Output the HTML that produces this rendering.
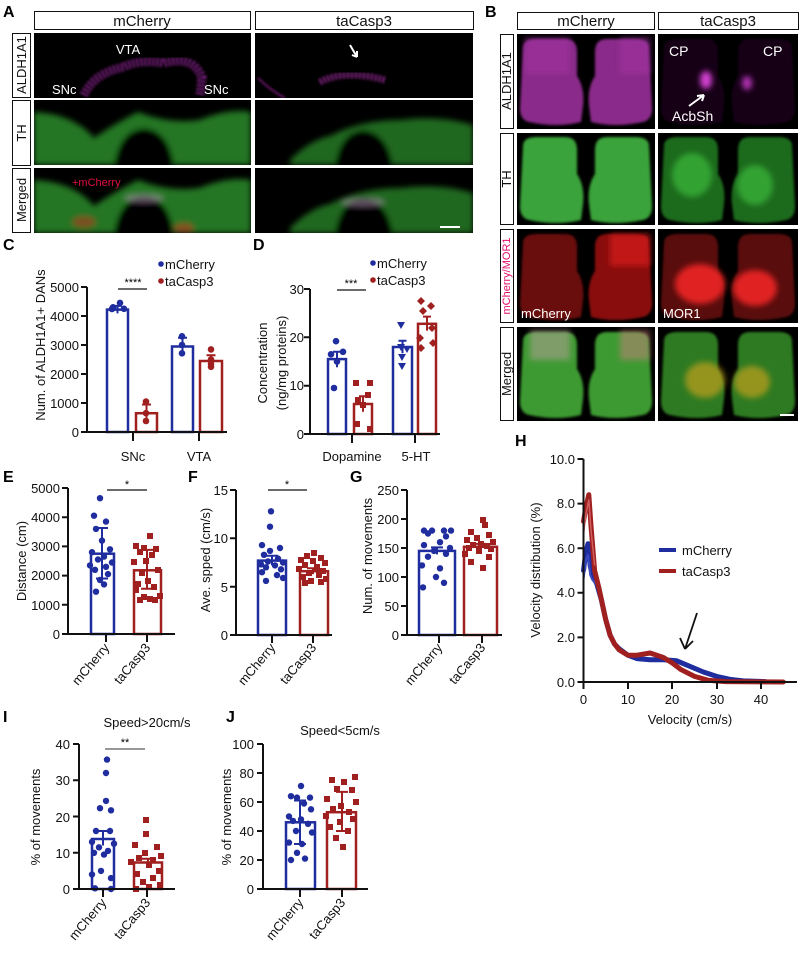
<!DOCTYPE html>
<html><head><meta charset="utf-8"><style>
html,body{margin:0;padding:0;background:#fff}
svg{display:block;font-family:"Liberation Sans",sans-serif}
</style></head><body>
<svg width="800" height="953" viewBox="0 0 800 953" xmlns="http://www.w3.org/2000/svg">
<defs>
<filter id="bl" x="-20%" y="-20%" width="140%" height="140%"><feGaussianBlur stdDeviation="3"/></filter>
<filter id="bl2"><feGaussianBlur stdDeviation="1.2"/></filter>
<path id="lobe" d="M6,12 Q6,3 20,3 L48,3 Q60,3 60,16 L60,40 Q68,52 66,70 L64,86 Q40,92 12,86 Q3,84 3,72 Z"/>
</defs>
<style>
.t{font-size:13px;fill:#111}
.ax{stroke:#111;stroke-width:2;fill:none}
.b{fill:#1f2d9e}.r{fill:#a01f1f}
.bs{stroke:#1f2d9e;stroke-width:2.5;fill:#fff}
.rs{stroke:#a01f1f;stroke-width:2.5;fill:#fff}
.be{stroke:#1f2d9e;stroke-width:2;fill:none}
.re{stroke:#a01f1f;stroke-width:2;fill:none}
.L{font-size:16px;font-weight:bold;fill:#000}
.hd{font-size:15px;fill:#111}
</style>

<!-- ===== Panel A ===== -->
<text x="3" y="17" class="L">A</text>
<rect x="34.5" y="11.5" width="216" height="18" fill="#fff" stroke="#111"/>
<text x="142" y="26" class="hd" text-anchor="middle">mCherry</text>
<rect x="255.5" y="11.5" width="218" height="18" fill="#fff" stroke="#111"/>
<text x="364" y="26" class="hd" text-anchor="middle">taCasp3</text>
<rect x="12.5" y="33.5" width="18" height="64" fill="#fff" stroke="#111"/>
<text transform="translate(26,65) rotate(-90)" class="t" text-anchor="middle">ALDH1A1</text>
<rect x="12.5" y="100.5" width="18" height="65" fill="#fff" stroke="#111"/>
<text transform="translate(26,133) rotate(-90)" class="t" text-anchor="middle">TH</text>
<rect x="12.5" y="168.5" width="18" height="64" fill="#fff" stroke="#111"/>
<text transform="translate(26,200) rotate(-90)" class="t" text-anchor="middle">Merged</text>

<!-- row1 -->
<svg x="34" y="33" width="217" height="65" overflow="hidden">
<rect width="217" height="65" fill="#000"/>
<g filter="url(#bl2)">
<path d="M50,62 Q60,40 90,34 Q105,26 130,30 Q160,22 168,45 L166,62" stroke="#a028a8" stroke-width="9" fill="none" stroke-dasharray="2 2" opacity="0.8"/>
</g>
<text x="94" y="21" fill="#fff" font-size="13" text-anchor="middle">VTA</text>
<text x="18" y="61" fill="#fff" font-size="13">SNc</text>
<text x="170" y="61" fill="#fff" font-size="13">SNc</text>
</svg>
<svg x="255" y="33" width="218" height="65" overflow="hidden">
<rect width="218" height="65" fill="#000"/>
<g filter="url(#bl2)">
<path d="M65,49 Q90,36 130,47" stroke="#b030b0" stroke-width="7" fill="none" stroke-dasharray="2 2" opacity="0.8"/>
<path d="M3,45 Q15,57 30,65" stroke="#902090" stroke-width="1.5" fill="none"/>
</g>
<path d="M95,12 L102,24 M102,24 L97,22 M102,24 L102,18" stroke="#fff" stroke-width="2" fill="none"/>
</svg>

<!-- row2 -->
<svg x="34" y="100" width="217" height="65" overflow="hidden">
<rect width="217" height="65" fill="#000"/>
<g filter="url(#bl)">
<path d="M0,12 Q40,14 60,38 Q80,24 104,12 Q135,24 165,20 Q195,8 217,12 L217,65 L0,65 Z" fill="#2a8a2a" opacity="0.85"/>
<path d="M80,65 Q85,30 110,28 Q135,30 140,65 Z" fill="#000"/>
</g>
</svg>
<svg x="255" y="100" width="218" height="65" overflow="hidden">
<rect width="218" height="65" fill="#000"/>
<g filter="url(#bl)">
<path d="M35,60 Q55,40 75,36 Q105,20 145,20 Q185,15 218,25 L218,65 L35,65 Z" fill="#267a26" opacity="0.85"/>
<path d="M80,65 Q85,32 108,30 Q132,32 138,65 Z" fill="#000"/>
</g>
</svg>

<!-- row3 -->
<svg x="34" y="168" width="217" height="65" overflow="hidden">
<rect width="217" height="65" fill="#000"/>
<g filter="url(#bl)">
<path d="M0,12 Q40,14 60,38 Q80,24 104,12 Q135,24 165,20 Q195,8 217,12 L217,65 L0,65 Z" fill="#2a8a2a" opacity="0.85"/>
<path d="M80,65 Q85,30 110,28 Q135,30 140,65 Z" fill="#000"/>
<ellipse cx="50" cy="54" rx="12" ry="6" fill="#a04020" opacity="0.7"/>
<ellipse cx="150" cy="60" rx="10" ry="5" fill="#b04020" opacity="0.7"/>
<ellipse cx="110" cy="30" rx="20" ry="4" fill="#c0a0c0" opacity="0.5"/>
</g>
<text x="38" y="18" fill="#e01040" font-size="11">+mCherry</text>
</svg>
<svg x="255" y="168" width="218" height="65" overflow="hidden">
<rect width="218" height="65" fill="#000"/>
<g filter="url(#bl)">
<path d="M35,60 Q55,40 75,36 Q105,20 145,20 Q185,15 218,25 L218,65 L35,65 Z" fill="#267a26" opacity="0.85"/>
<path d="M80,65 Q85,32 108,30 Q132,32 138,65 Z" fill="#000"/>
<ellipse cx="108" cy="34" rx="22" ry="4" fill="#c0a0c0" opacity="0.5"/>
</g>
<rect x="185" y="58" width="20" height="2" fill="#fff"/>
</svg>

<!-- ===== Panel B ===== -->
<text x="485" y="17" class="L">B</text>
<rect x="517.5" y="12.5" width="137" height="17" fill="#fff" stroke="#111"/>
<text x="586" y="26" class="hd" text-anchor="middle">mCherry</text>
<rect x="658.5" y="12.5" width="140" height="17" fill="#fff" stroke="#111"/>
<text x="728" y="26" class="hd" text-anchor="middle">taCasp3</text>
<rect x="500.5" y="34.5" width="13" height="94" fill="#fff" stroke="#111"/>
<text transform="translate(511,81) rotate(-90)" class="t" text-anchor="middle">ALDH1A1</text>
<rect x="500.5" y="133.5" width="13" height="91" fill="#fff" stroke="#111"/>
<text transform="translate(511,179) rotate(-90)" class="t" text-anchor="middle">TH</text>
<rect x="500.5" y="229.5" width="13" height="93" fill="#fff" stroke="#111"/>
<text transform="translate(510,276) rotate(-90)" font-size="11" fill="#e0106a" text-anchor="middle">mCherry/MOR1</text>
<rect x="500.5" y="327.5" width="13" height="93" fill="#fff" stroke="#111"/>
<text transform="translate(511,374) rotate(-90)" class="t" text-anchor="middle">Merged</text>

<g>
<rect x="517" y="34" width="138" height="95" fill="#000"/>
<rect x="658" y="34" width="140" height="95" fill="#000"/>
<rect x="517" y="133" width="138" height="92" fill="#000"/>
<rect x="658" y="133" width="140" height="92" fill="#000"/>
<rect x="517" y="229" width="138" height="94" fill="#000"/>
<rect x="658" y="229" width="140" height="94" fill="#000"/>
<rect x="517" y="327" width="138" height="94" fill="#000"/>
<rect x="658" y="327" width="140" height="94" fill="#000"/>
</g>
<g filter="url(#bl2)">
<use href="#lobe" transform="translate(517,36)" fill="#8a2a8a"/>
<use href="#lobe" transform="translate(655,36) scale(-1,1)" fill="#8a2a8a"/>
<use href="#lobe" transform="translate(517,134)" fill="#3aa33a"/>
<use href="#lobe" transform="translate(655,134) scale(-1,1)" fill="#3aa33a"/>
<use href="#lobe" transform="translate(517,231)" fill="#6a0c0c"/>
<use href="#lobe" transform="translate(655,231) scale(-1,1)" fill="#8a1010"/>
<use href="#lobe" transform="translate(517,329)" fill="#3d9a30"/>
<use href="#lobe" transform="translate(655,329) scale(-1,1)" fill="#3d9a30"/>
<use href="#lobe" transform="translate(658,36)" fill="#140414"/>
<use href="#lobe" transform="translate(798,36) scale(-1,1)" fill="#140414"/>
<use href="#lobe" transform="translate(658,134)" fill="#1d6a1d"/>
<use href="#lobe" transform="translate(798,134) scale(-1,1)" fill="#1d6a1d"/>
<use href="#lobe" transform="translate(658,231)" fill="#5a0a0a"/>
<use href="#lobe" transform="translate(798,231) scale(-1,1)" fill="#5a0a0a"/>
<use href="#lobe" transform="translate(658,329)" fill="#2e7a22"/>
<use href="#lobe" transform="translate(798,329) scale(-1,1)" fill="#2e7a22"/>
</g>
<svg x="517" y="34" width="281" height="387" overflow="hidden">
<g filter="url(#bl)">
<rect x="8" y="4" width="45" height="36" fill="#a030a0" opacity="0.6"/>
<rect x="103" y="4" width="30" height="36" fill="#a030a0" opacity="0.6"/>
<rect x="93" y="200" width="40" height="32" fill="#d01818" opacity="0.8"/>
<ellipse cx="189" cy="46" rx="6" ry="9" fill="#d040d0"/>
<ellipse cx="230" cy="49" rx="5" ry="7" fill="#b030b0"/>
<ellipse cx="175" cy="141" rx="20" ry="22" fill="#3ab03a" opacity="0.8"/>
<ellipse cx="238" cy="151" rx="18" ry="20" fill="#3ab03a" opacity="0.8"/>
<ellipse cx="183" cy="250" rx="25" ry="20" fill="#e02020"/>
<ellipse cx="238" cy="254" rx="22" ry="18" fill="#e02020"/>
<ellipse cx="188" cy="346" rx="20" ry="18" fill="#c0a020" opacity="0.7"/>
<ellipse cx="235" cy="348" rx="18" ry="16" fill="#c0a020" opacity="0.7"/>
<rect x="13" y="296" width="40" height="30" fill="#c0a0a0" opacity="0.5"/>
<rect x="103" y="296" width="30" height="30" fill="#d08080" opacity="0.5"/>
</g>
</svg>
<text x="669" y="56" fill="#fff" font-size="14">CP</text>
<text x="763" y="56" fill="#fff" font-size="14">CP</text>
<text x="672" y="121" fill="#fff" font-size="14">AcbSh</text>
<path d="M689,106 L704,95 M704,95 L697,96 M704,95 L702,101" stroke="#fff" stroke-width="2" fill="none"/>
<text x="521" y="318" fill="#fff" font-size="13">mCherry</text>
<text x="663" y="318" fill="#fff" font-size="13">MOR1</text>
<rect x="780" y="414" width="14" height="2" fill="#fff"/>

<!-- ===== Panel C ===== -->
<text x="3" y="250" class="L">C</text>
<rect x="107" y="309.6" width="21" height="122.4" class="bs"/>
<rect x="136" y="413.2" width="21" height="18.8" class="rs"/>
<rect x="172" y="346.5" width="21" height="85.5" class="bs"/>
<rect x="200" y="361" width="22" height="71" class="rs"/>
<path class="be" d="M117.5,305.9V313.4M113,305.9H122"/>
<path class="re" d="M146.5,404.5V420.4M142,404.5H151"/>
<path class="be" d="M182.5,337.8V353.7M178,337.8H187"/>
<path class="re" d="M211,355.2V366.8M206.5,355.2H215.5"/>
<g class="b"><circle cx="113" cy="307.3" r="3.3"/><circle cx="120" cy="302.9" r="3.3"/><circle cx="124" cy="308.8" r="3.3"/><circle cx="112" cy="309" r="3.3"/>
<circle cx="182" cy="336.3" r="3.3"/><circle cx="182" cy="345" r="3.3"/><circle cx="182" cy="353.3" r="3.3"/></g>
<g class="r"><circle cx="146" cy="401.6" r="3.3"/><circle cx="146" cy="413.2" r="3.3"/><circle cx="146" cy="421" r="3.3"/>
<circle cx="211" cy="349.4" r="3.3"/><circle cx="211" cy="359.5" r="3.3"/><circle cx="211" cy="363.9" r="3.3"/><circle cx="211" cy="366.8" r="3.3"/></g>
<path class="ax" d="M87,287V432H227M81,287H87M81,316H87M81,345H87M81,374H87M81,403H87M81,432H87M133,432V441M199,432V441"/>
<g class="t" text-anchor="end" font-size="14"><text x="79" y="292">5000</text><text x="79" y="321">4000</text><text x="79" y="350">3000</text><text x="79" y="379">2000</text><text x="79" y="408">1000</text><text x="79" y="437">0</text></g>
<text x="133" y="461" class="t" font-size="14" text-anchor="middle">SNc</text>
<text x="199" y="461" class="t" font-size="14" text-anchor="middle">VTA</text>
<text transform="translate(45,345) rotate(-90)" class="t" font-size="14" text-anchor="middle">Num.  of ALDH1A1+ DANs</text>
<line x1="118" y1="289" x2="147" y2="289" stroke="#111" stroke-width="1.2"/>
<text x="133" y="286" font-size="11" text-anchor="middle">****</text>
<circle cx="161" cy="264" r="2.8" class="b"/><text x="165" y="269" class="t" font-size="13">mCherry</text>
<circle cx="161" cy="281" r="2.8" class="r"/><text x="165" y="286" class="t" font-size="13">taCasp3</text>

<!-- ===== Panel D ===== -->
<text x="253" y="250" class="L">D</text>
<rect x="328" y="359.1" width="18" height="74.9" class="bs"/>
<rect x="354" y="404" width="18" height="30" class="rs"/>
<rect x="393" y="347" width="19" height="87" class="bs"/>
<rect x="418" y="323.8" width="18" height="110.2" class="rs"/>
<path class="be" d="M337,351.8V367.3M333,351.8H341"/>
<path class="re" d="M363,396.3V411.8M359,396.3H367"/>
<path class="be" d="M402.5,340.7V353.3M398.5,340.7H406.5"/>
<path class="re" d="M427,316.6V330.6M423,316.6H431"/>
<g class="b"><circle cx="336" cy="341.2" r="3.3"/><circle cx="343" cy="351.8" r="3.3"/><circle cx="331" cy="354.3" r="3.3"/><circle cx="337" cy="361.5" r="3.3"/><circle cx="334" cy="388" r="3.3"/>
<path d="M397,322h8l-4,7z M397,344h8l-4,7z M403,346h8l-4,7z M398,354h8l-4,7z M398,363h8l-4,7z"/></g>
<g class="r"><rect x="353" y="380" width="6" height="6"/><rect x="367" y="380" width="6" height="6"/><rect x="365" y="392" width="6" height="6"/><rect x="355" y="397" width="6" height="6"/><rect x="360" y="402" width="6" height="6"/><rect x="354" y="421" width="6" height="6"/><rect x="367" y="426" width="6" height="6"/>
<path d="M421,297l4,4-4,4-4-4z M431,302l4,4-4,4-4-4z M423,307l4,4-4,4-4-4z M432,324l4,4-4,4-4-4z M420,334l4,4-4,4-4-4z M433,339l4,4-4,4-4-4z M421,344l4,4-4,4-4-4z"/></g>
<path class="ax" d="M310,289V434H440M304,289H310M304,337.3H310M304,385.7H310M304,434H310M352,434V443M415,434V443"/>
<g class="t" text-anchor="end" font-size="13"><text x="304" y="294">30</text><text x="304" y="342">20</text><text x="304" y="390">10</text><text x="304" y="439">0</text></g>
<text x="352" y="461" class="t" font-size="14" text-anchor="middle">Dopamine</text>
<text x="416" y="461" class="t" font-size="14" text-anchor="middle">5-HT</text>
<text transform="translate(267,363) rotate(-90)" class="t" font-size="14" text-anchor="middle">Concentration</text>
<text transform="translate(286,363) rotate(-90)" class="t" font-size="14" text-anchor="middle">(ng/mg proteins)</text>
<line x1="337" y1="290" x2="366" y2="290" stroke="#111" stroke-width="1.2"/>
<text x="351" y="287" font-size="11" text-anchor="middle">***</text>
<circle cx="373" cy="263" r="2.8" class="b"/><text x="377" y="268" class="t">mCherry</text>
<circle cx="373" cy="280" r="2.8" class="r"/><text x="377" y="285" class="t">taCasp3</text>

<!-- ===== Panel E ===== -->
<text x="3" y="482" class="L">E</text>
<rect x="91" y="553.7" width="23" height="80.3" class="bs"/>
<rect x="134" y="570.3" width="27" height="63.7" class="rs"/>
<path class="be" d="M102,528V578.5M96,528H108M96,578.5H108"/>
<path class="re" d="M147,549.9V588.7M141,549.9H153M141,588.7H153"/>
<g class="b">
<circle cx="100" cy="498.2" r="3.2"/><circle cx="94" cy="515.7" r="3.2"/><circle cx="106" cy="521.6" r="3.2"/><circle cx="96" cy="528.9" r="3.2"/><circle cx="102" cy="540.6" r="3.2"/><circle cx="110" cy="549.3" r="3.2"/><circle cx="92" cy="552.2" r="3.2"/><circle cx="104" cy="556.6" r="3.2"/><circle cx="98" cy="559.5" r="3.2"/><circle cx="112" cy="562.5" r="3.2"/><circle cx="90" cy="565.4" r="3.2"/><circle cx="106" cy="566.8" r="3.2"/><circle cx="95" cy="569.8" r="3.2"/><circle cx="108" cy="574.1" r="3.2"/><circle cx="100" cy="580" r="3.2"/><circle cx="104" cy="584.4" r="3.2"/><circle cx="96" cy="591.7" r="3.2"/></g>
<g class="r">
<rect x="147" y="533" width="6" height="6"/><rect x="133" y="543" width="6" height="6"/><rect x="141" y="545" width="6" height="6"/><rect x="153" y="546" width="6" height="6"/><rect x="137" y="549" width="6" height="6"/><rect x="149" y="552" width="6" height="6"/><rect x="143" y="558" width="6" height="6"/><rect x="131" y="559" width="6" height="6"/><rect x="155" y="567" width="6" height="6"/><rect x="139" y="570" width="6" height="6"/><rect x="145" y="578" width="6" height="6"/><rect x="135" y="581" width="6" height="6"/><rect x="151" y="584" width="6" height="6"/><rect x="133" y="587" width="6" height="6"/><rect x="157" y="593" width="6" height="6"/><rect x="141" y="594" width="6" height="6"/><rect x="147" y="596" width="6" height="6"/><rect x="137" y="597" width="6" height="6"/><rect x="152" y="597" width="6" height="6"/></g>
<path class="ax" d="M68,488V634H175M62,488H68M62,517.2H68M62,546.4H68M62,575.6H68M62,604.8H68M62,634H68M106,634V642M147,634V642"/>
<g class="t" text-anchor="end"><text x="60" y="493">5000</text><text x="60" y="522">4000</text><text x="60" y="551">3000</text><text x="60" y="580">2000</text><text x="60" y="610">1000</text><text x="60" y="639">0</text></g>
<text transform="translate(110,648) rotate(-50)" class="t" font-size="14" text-anchor="end">mCherry</text>
<text transform="translate(151,648) rotate(-50)" class="t" font-size="14" text-anchor="end">taCasp3</text>
<text transform="translate(26,561) rotate(-90)" class="t" font-size="14" text-anchor="middle">Distance (cm)</text>
<line x1="107" y1="490" x2="147" y2="490" stroke="#111" stroke-width="1.2"/>
<text x="127" y="488" font-size="11" text-anchor="middle">*</text>

<!-- ===== Panel F ===== -->
<text x="188" y="482" class="L">F</text>
<rect x="258" y="560.6" width="28" height="74.4" class="bs"/>
<rect x="300" y="571.2" width="28" height="63.8" class="rs"/>
<path class="be" d="M272,555.7V565.4M266,555.7H278"/>
<path class="re" d="M313,568.3V574.1M307,568.3H319"/>
<g class="b">
<circle cx="271" cy="511.3" r="3.2"/><circle cx="270" cy="526.7" r="3.2"/><circle cx="262" cy="545.1" r="3.2"/><circle cx="280" cy="548" r="3.2"/><circle cx="270" cy="550.9" r="3.2"/><circle cx="264" cy="554.8" r="3.2"/><circle cx="278" cy="558.6" r="3.2"/><circle cx="268" cy="561.5" r="3.2"/><circle cx="283" cy="562.5" r="3.2"/><circle cx="261" cy="564.4" r="3.2"/><circle cx="275" cy="565.4" r="3.2"/><circle cx="266" cy="567.3" r="3.2"/><circle cx="281" cy="569.3" r="3.2"/><circle cx="262" cy="572.2" r="3.2"/><circle cx="277" cy="575.1" r="3.2"/><circle cx="283" cy="578" r="3.2"/><circle cx="266" cy="580.9" r="3.2"/></g>
<g class="r">
<rect x="311" y="550" width="6" height="6"/><rect x="304" y="553" width="6" height="6"/><rect x="318" y="555" width="6" height="6"/><rect x="298" y="557" width="6" height="6"/><rect x="310" y="558" width="6" height="6"/><rect x="322" y="560" width="6" height="6"/><rect x="302" y="562" width="6" height="6"/><rect x="314" y="564" width="6" height="6"/><rect x="296" y="566" width="6" height="6"/><rect x="320" y="568" width="6" height="6"/><rect x="306" y="570" width="6" height="6"/><rect x="316" y="572" width="6" height="6"/><rect x="300" y="574" width="6" height="6"/><rect x="323" y="576" width="6" height="6"/><rect x="308" y="578" width="6" height="6"/><rect x="318" y="579" width="6" height="6"/><rect x="302" y="580" width="6" height="6"/></g>
<path class="ax" d="M236,490V635H332M230,490H236M230,538.3H236M230,586.7H236M230,635H236M272,635V643M313,635V643"/>
<g class="t" text-anchor="end"><text x="228" y="495">15</text><text x="228" y="543">10</text><text x="228" y="592">5</text><text x="228" y="640">0</text></g>
<text transform="translate(276,648) rotate(-50)" class="t" font-size="14" text-anchor="end">mCherry</text>
<text transform="translate(317,648) rotate(-50)" class="t" font-size="14" text-anchor="end">taCasp3</text>
<text transform="translate(210,560) rotate(-90)" class="t" font-size="14" text-anchor="middle">Ave. spped (cm/s)</text>
<line x1="268" y1="490" x2="307" y2="490" stroke="#111" stroke-width="1.2"/>
<text x="287" y="488" font-size="11" text-anchor="middle">*</text>

<!-- ===== Panel G ===== -->
<text x="350" y="482" class="L">G</text>
<rect x="419" y="550.9" width="36" height="84.1" class="bs"/>
<rect x="464" y="546.8" width="33" height="88.2" class="rs"/>
<path class="be" d="M437,547.4V554.4M431,547.4H443"/>
<path class="re" d="M480,543.9V549.7M474,543.9H486"/>
<g class="b">
<circle cx="424" cy="530.6" r="3.2"/><circle cx="432" cy="530.6" r="3.2"/><circle cx="444" cy="530.6" r="3.2"/><circle cx="451" cy="530.6" r="3.2"/><circle cx="428" cy="533.5" r="3.2"/><circle cx="446" cy="536.4" r="3.2"/><circle cx="440" cy="542.2" r="3.2"/><circle cx="424" cy="545.1" r="3.2"/><circle cx="450" cy="548" r="3.2"/><circle cx="434" cy="550.9" r="3.2"/><circle cx="446" cy="553.8" r="3.2"/><circle cx="428" cy="556.7" r="3.2"/><circle cx="422" cy="565.4" r="3.2"/><circle cx="440" cy="568.3" r="3.2"/><circle cx="436" cy="577" r="3.2"/><circle cx="444" cy="582.8" r="3.2"/><circle cx="423" cy="587.4" r="3.2"/></g>
<g class="r">
<rect x="480" y="517" width="6" height="6"/><rect x="482" y="522" width="6" height="6"/><rect x="468" y="529" width="6" height="6"/><rect x="486" y="532" width="6" height="6"/><rect x="474" y="535" width="6" height="6"/><rect x="464" y="537" width="6" height="6"/><rect x="490" y="539" width="6" height="6"/><rect x="478" y="541" width="6" height="6"/><rect x="470" y="542" width="6" height="6"/><rect x="484" y="543" width="6" height="6"/><rect x="466" y="545" width="6" height="6"/><rect x="488" y="546" width="6" height="6"/><rect x="476" y="548" width="6" height="6"/><rect x="462" y="551" width="6" height="6"/><rect x="486" y="554" width="6" height="6"/><rect x="468" y="559" width="6" height="6"/><rect x="480" y="565" width="6" height="6"/></g>
<path class="ax" d="M407,490V635H502M401,490H407M401,519H407M401,548H407M401,577H407M401,606H407M401,635H407M439,635V643M482,635V643"/>
<g class="t" text-anchor="end"><text x="399" y="495">250</text><text x="399" y="524">200</text><text x="399" y="553">150</text><text x="399" y="582">100</text><text x="399" y="611">50</text><text x="399" y="640">0</text></g>
<text transform="translate(443,648) rotate(-50)" class="t" font-size="14" text-anchor="end">mCherry</text>
<text transform="translate(486,648) rotate(-50)" class="t" font-size="14" text-anchor="end">taCasp3</text>
<text transform="translate(372,556) rotate(-90)" class="t" font-size="14" text-anchor="middle">Num. of movements</text>

<!-- ===== Panel H ===== -->
<text x="515" y="446" class="L">H</text>
<g fill="none" stroke-linejoin="round" stroke-linecap="round">
<polyline stroke="#1f2d9e" stroke-width="5" points="583.5,570.5 585.7,552.7 588,543.7 590.2,566 592.4,575 596.8,583.9 601.3,599.5 605.7,619.6 610.1,635.2 614.6,644.1 619,648.6 627.9,655.2 636.8,658.6 650.1,659.7 663.4,659.7 676.7,660.8 690.1,666.4 703.4,672 716.7,676.4 730,679.3 743.3,680.9 765.5,681.6"/>
<polyline stroke="#3a4ac0" stroke-width="2" points="583.5,580 585.7,560 588,555 590.2,575 592.4,580 596.8,585"/>
<polyline stroke="#a01f1f" stroke-width="5" points="583.5,521.4 585.7,508 588.8,494.7 591,525.9 594.6,570.5 599,588.3 605.7,619.6 610.1,635.2 614.6,644.1 619,649.7 627.9,655.2 636.8,655.2 650.1,653 663.4,657.5 672.3,663 681.2,669.7 694.5,676.4 707.8,680.2 725.6,681.6 783.3,682"/>
<polyline stroke="#d06060" stroke-width="1.5" points="583.5,535 585.7,515 588.8,500 591,530 594.6,565"/>
</g>
<path class="ax" d="M583.5,459V682H797M577.5,459H583.5M577.5,503.6H583.5M577.5,548.2H583.5M577.5,592.8H583.5M577.5,637.4H583.5M577.5,682H583.5M583.5,682V689M628,682V689M672,682V689M717,682V689M761,682V689"/>
<g class="t" text-anchor="end"><text x="575" y="464">10.0</text><text x="575" y="508">8.0</text><text x="575" y="553">6.0</text><text x="575" y="597">4.0</text><text x="575" y="642">2.0</text><text x="575" y="687">0.0</text></g>
<g class="t" text-anchor="middle" font-size="14"><text x="583.5" y="704">0</text><text x="628" y="704">10</text><text x="672" y="704">20</text><text x="717" y="704">30</text><text x="761" y="704">40</text></g>
<text x="690" y="724" class="t" font-size="15" text-anchor="middle">Velocity (cm/s)</text>
<text transform="translate(540,570) rotate(-90)" class="t" font-size="14" text-anchor="middle">Velocity distribution (%)</text>
<line x1="659" y1="550" x2="676" y2="550" stroke="#1f2d9e" stroke-width="4"/>
<text x="682" y="555" class="t" font-size="14">mCherry</text>
<line x1="659" y1="571" x2="676" y2="571" stroke="#a01f1f" stroke-width="4"/>
<text x="682" y="576" class="t" font-size="14">taCasp3</text>
<path d="M697,613 L685,649 M685,649 L680,638 M685,649 L693,641" stroke="#111" stroke-width="1.8" fill="none"/>

<!-- ===== Panel I ===== -->
<text x="3" y="722" class="L">I</text>
<text x="147" y="727" class="t" font-size="14" text-anchor="middle">Speed&gt;20cm/s</text>
<rect x="92" y="839" width="22" height="50" class="bs"/>
<rect x="134" y="862.5" width="28" height="26.5" class="rs"/>
<path class="be" d="M103,831V845.5M97,831H109"/>
<path class="re" d="M148,858.8V866.2M142,858.8H154"/>
<g class="b">
<circle cx="107" cy="759.6" r="3.2"/><circle cx="106" cy="773" r="3.2"/><circle cx="106" cy="800.9" r="3.2"/><circle cx="100" cy="808.2" r="3.2"/><circle cx="111" cy="810.3" r="3.2"/><circle cx="96" cy="831" r="3.2"/><circle cx="110" cy="831" r="3.2"/><circle cx="92" cy="841.9" r="3.2"/><circle cx="114" cy="843.7" r="3.2"/><circle cx="99" cy="847.3" r="3.2"/><circle cx="108" cy="850.9" r="3.2"/><circle cx="94" cy="852.8" r="3.2"/><circle cx="104" cy="854.6" r="3.2"/><circle cx="101" cy="870.9" r="3.2"/><circle cx="92" cy="874.5" r="3.2"/><circle cx="111" cy="878.1" r="3.2"/><circle cx="95" cy="888.3" r="3.2"/><circle cx="111" cy="889" r="3.2"/></g>
<g class="r">
<rect x="143" y="817" width="6" height="6"/><rect x="143" y="831" width="6" height="6"/><rect x="132" y="842" width="6" height="6"/><rect x="154" y="844" width="6" height="6"/><rect x="142" y="850" width="6" height="6"/><rect x="158" y="853" width="6" height="6"/><rect x="136" y="855" width="6" height="6"/><rect x="150" y="857" width="6" height="6"/><rect x="128" y="859" width="6" height="6"/><rect x="146" y="862" width="6" height="6"/><rect x="156" y="868" width="6" height="6"/><rect x="134" y="871" width="6" height="6"/><rect x="150" y="875" width="6" height="6"/><rect x="140" y="879" width="6" height="6"/><rect x="157" y="882" width="6" height="6"/><rect x="146" y="884" width="6" height="6"/><rect x="133" y="886" width="6" height="6"/></g>
<path class="ax" d="M79,744V889H175M73,744H79M73,780.25H79M73,816.5H79M73,852.75H79M73,889H79M103,889V897M147,889V897"/>
<g class="t" text-anchor="end" font-size="14"><text x="70" y="749">40</text><text x="70" y="785">30</text><text x="70" y="822">20</text><text x="70" y="858">10</text><text x="70" y="894">0</text></g>
<text transform="translate(107,903) rotate(-50)" class="t" font-size="14" text-anchor="end">mCherry</text>
<text transform="translate(151,903) rotate(-50)" class="t" font-size="14" text-anchor="end">taCasp3</text>
<text transform="translate(40,817) rotate(-90)" class="t" font-size="14" text-anchor="middle">% of movements</text>
<line x1="105" y1="749" x2="145" y2="749" stroke="#777" stroke-width="1.5"/>
<text x="125" y="746" font-size="11" text-anchor="middle">**</text>

<!-- ===== Panel J ===== -->
<text x="226" y="722" class="L">J</text>
<text x="340" y="735" class="t" font-size="14" text-anchor="middle">Speed&lt;5cm/s</text>
<rect x="286" y="822.3" width="29" height="66.7" class="bs"/>
<rect x="327" y="812.2" width="29" height="76.8" class="rs"/>
<path class="be" d="M300,800.5V844M294,800.5H306M294,844H306"/>
<path class="re" d="M342,791.9V831M336,791.9H348M336,831H348"/>
<g class="b">
<circle cx="301" cy="786" r="3.2"/><circle cx="291" cy="796.2" r="3.2"/><circle cx="310" cy="797.6" r="3.2"/><circle cx="297" cy="797.6" r="3.2"/><circle cx="304" cy="803.5" r="3.2"/><circle cx="311" cy="809.3" r="3.2"/><circle cx="289" cy="816.5" r="3.2"/><circle cx="301" cy="819.4" r="3.2"/><circle cx="293" cy="820.9" r="3.2"/><circle cx="308" cy="823.8" r="3.2"/><circle cx="296" cy="831" r="3.2"/><circle cx="312" cy="832.5" r="3.2"/><circle cx="289" cy="842.6" r="3.2"/><circle cx="302" cy="844" r="3.2"/><circle cx="297" cy="852.8" r="3.2"/><circle cx="305" cy="858.6" r="3.2"/><circle cx="291" cy="860" r="3.2"/></g>
<g class="r">
<rect x="352" y="774" width="6" height="6"/><rect x="329" y="777" width="6" height="6"/><rect x="341" y="779" width="6" height="6"/><rect x="334" y="786" width="6" height="6"/><rect x="349" y="787" width="6" height="6"/><rect x="324" y="796" width="6" height="6"/><rect x="353" y="799" width="6" height="6"/><rect x="338" y="803" width="6" height="6"/><rect x="330" y="806" width="6" height="6"/><rect x="346" y="809" width="6" height="6"/><rect x="323" y="813" width="6" height="6"/><rect x="350" y="816" width="6" height="6"/><rect x="337" y="819" width="6" height="6"/><rect x="327" y="824" width="6" height="6"/><rect x="345" y="828" width="6" height="6"/><rect x="333" y="835" width="6" height="6"/><rect x="340" y="844" width="6" height="6"/></g>
<path class="ax" d="M263,744V889H368M257,744H263M257,773H263M257,802H263M257,831H263M257,860H263M257,889H263M300,889V897M342,889V897"/>
<g class="t" text-anchor="end" font-size="14"><text x="254" y="749">100</text><text x="254" y="778">80</text><text x="254" y="807">60</text><text x="254" y="836">40</text><text x="254" y="865">20</text><text x="254" y="894">0</text></g>
<text transform="translate(304,903) rotate(-50)" class="t" font-size="14" text-anchor="end">mCherry</text>
<text transform="translate(346,903) rotate(-50)" class="t" font-size="14" text-anchor="end">taCasp3</text>
<text transform="translate(231,817) rotate(-90)" class="t" font-size="14" text-anchor="middle">% of movements</text>
</svg>
</body></html>
